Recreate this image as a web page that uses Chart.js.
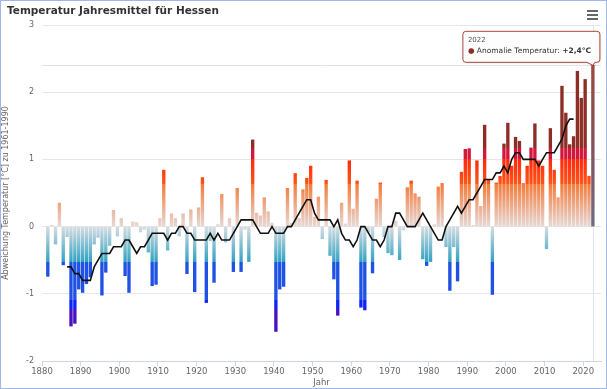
<!DOCTYPE html>
<html>
<head>
<meta charset="utf-8">
<script src="https://cdn.jsdelivr.net/npm/chart.js@4.4.0/dist/chart.umd.min.js"></script>
<style>
  html, body { margin: 0; padding: 0; background: #fff; }
  #wrap { position: relative; width: 607px; height: 389px; box-sizing: border-box; border: 1px solid #9db8e6; }
  #title { position: absolute; left: 6px; top: 3px; font: bold 10.5px "DejaVu Sans", sans-serif; color: #333; white-space: nowrap; }
  #menu { position: absolute; left: 586px; top: 9px; width: 11px; }
  #menu span { display: block; height: 2px; background: #666; margin-bottom: 2px; }
  canvas { position: absolute; left: 0; top: 0; }
</style>
</head>
<body>
<div id="wrap">
  <canvas id="tempChart" width="605" height="387"></canvas>
  <div id="title">Temperatur Jahresmittel für Hessen</div>
  <div id="menu"><span></span><span></span><span></span></div>
</div>
<script>
// Jahresmittel-Abweichung [°C] zu 1961-1990, Jahre ab 1881
const firstYear = 1881;
const anomalies = [
  -0.74, 0.02, -0.26, 0.35, -0.57, -0.15, -1.48, -1.44, -0.93, -0.98,   // 1881-1890
  -0.85, -0.75, -0.26, -0.16, -1.02, -0.68, -0.28, 0.24, -0.14, 0.12,   // 1891-1900
  -0.73, -0.98, 0.07, 0.06, -0.08, -0.04, -0.38, -0.88, -0.86, 0.12,    // 1901-1910
  0.84, -0.35, 0.19, 0.12, -0.14, 0.19, -0.70, 0.25, -0.97, 0.28,       // 1911-1920
  0.73, -1.13, -0.21, -0.83, 0.03, 0.48, -0.23, 0.12, -0.67, 0.57,      // 1921-1930
  -0.67, -0.04, -0.52, 1.29, 0.20, 0.16, 0.43, 0.22, 0.05, -1.56,       // 1931-1940
  -0.93, -0.89, 0.57, 0.05, 0.79, 0.12, 0.55, 0.72, 0.90, 0.14,         // 1941-1950
  0.44, -0.18, 0.69, -0.43, -0.78, -1.32, 0.35, 0.04, 0.98, 0.26,       // 1951-1960
  0.68, -1.20, -1.24, -0.08, -0.69, 0.41, 0.65, -0.15, -0.39, -0.42,    // 1961-1970
  0.08, -0.49, -0.05, 0.58, 0.68, 0.49, 0.44, -0.48, -0.58, -0.52,      // 1971-1980
  0.03, 0.59, 0.64, -0.30, -0.95, -0.30, -0.81, 0.81, 1.15, 1.16,       // 1981-1990
  0.02, 0.98, 0.30, 1.51, 0.69, -1.01, 0.65, 0.75, 1.23, 1.54,          // 1991-2000
  0.90, 1.33, 1.27, 0.64, 0.90, 1.17, 1.53, 0.98, 0.90, -0.33,          // 2001-2010
  1.46, 0.84, 0.43, 2.09, 1.69, 1.22, 1.34, 2.31, 1.91, 2.19,           // 2011-2020
  0.75, 2.40                                                            // 2021-2022
];
const years = anomalies.map((_, i) => firstYear + i);

// gleitendes Mittel, Jahre ab 1886
const meanFirstYear = 1886;
const runningMean = [
  -0.6, -0.6, -0.7, -0.7, -0.8,                               // 1886-1890
  -0.8, -0.8, -0.6, -0.5, -0.4, -0.4, -0.4, -0.3, -0.3, -0.3, // 1891-1900
  -0.2, -0.2, -0.3, -0.4, -0.3, -0.3, -0.2, -0.1, -0.1, -0.1, // 1901-1910
  -0.1, -0.2, -0.1, -0.1, 0, 0, -0.1, -0.1, -0.2, -0.2,       // 1911-1920
  -0.2, -0.2, -0.1, -0.2, -0.1, -0.2, -0.2, -0.2, -0.1, 0,    // 1921-1930
  0.1, 0.1, 0.1, 0.1, 0, -0.1, -0.1, -0.1, 0, -0.1,           // 1931-1940
  -0.1, -0.1, 0, 0, 0.1, 0.2, 0.3, 0.4, 0.4, 0.2,             // 1941-1950
  0.1, 0.1, 0.1, 0.1, 0, 0.1, -0.1, -0.2, -0.2, -0.3,         // 1951-1960
  -0.2, 0, 0, -0.1, -0.2, -0.2, -0.3, -0.2, 0, 0,             // 1961-1970
  0.2, 0.2, 0.1, 0, 0, 0, 0.1, 0.2, 0.1, 0,                   // 1971-1980
  -0.1, -0.2, -0.2, 0, 0.1, 0.2, 0.3, 0.2, 0.3, 0.4,          // 1981-1990
  0.4, 0.5, 0.6, 0.7, 0.7, 0.7, 0.8, 0.8, 0.9, 0.8,           // 1991-2000
  1.0, 1.1, 1.1, 1.0, 1.0, 1.0, 1.0, 0.9, 1.0, 1.1,           // 2001-2010
  1.1, 1.1, 1.2, 1.3, 1.5, 1.6, 1.6                           // 2011-2017
];
const meanYears = runningMean.map((_, i) => meanFirstYear + i);

const yTicks = [-2, -1, 0, 1, 2, 3];
const xTickYears = [1880, 1890, 1900, 1910, 1920, 1930, 1940, 1950, 1960, 1970, 1980, 1990, 2000, 2010, 2020];

// colour bands (value, colour) - hard edges where two stops share a value
const bandStops = [
  [3, '#8c2e26'], [1.17, '#8c2e26'], [1.17, '#d3173c'], [1.0, '#d3173c'],
  [1.0, '#ff2a0c'], [0.64, '#ff5418'], [0.64, '#f47a38'], [0, '#e6d9d6'],
  [0, '#d7dde2'], [-0.53, '#2ea2c2'], [-0.53, '#1f52e4'], [-1.09, '#1f52e4'],
  [-1.09, '#0d24ff'], [-1.22, '#0d24ff'], [-1.22, '#4812c2'], [-2, '#4812c2']
];

let gradCache = null;
function barFill(ctx) {
  const chart = ctx.chart;
  const { chartArea, scales } = chart;
  if (!chartArea) return '#ccc';
  const y = scales.y;
  const top = y.getPixelForValue(y.max), bot = y.getPixelForValue(y.min);
  if (ctx.dataIndex === anomalies.length - 1) {
    // hovered bar (2022)
    const g = chart.ctx.createLinearGradient(0, y.getPixelForValue(anomalies[ctx.dataIndex]), 0, y.getPixelForValue(0));
    g.addColorStop(0, '#9a4842');
    g.addColorStop(0.5, '#85525a');
    g.addColorStop(1, '#6e6c84');
    return g;
  }
  if (!gradCache) {
    gradCache = chart.ctx.createLinearGradient(0, top, 0, bot);
    bandStops.forEach(([v, c]) => {
      gradCache.addColorStop((y.getPixelForValue(v) - top) / (bot - top), c);
    });
  }
  return gradCache;
}

const hoverTip = {
  id: 'hoverTip',
  beforeDatasetsDraw(chart) {
    const i = anomalies.length - 1;
    const a = chart.chartArea, c = chart.ctx;
    const px = chart.scales.x.getPixelForValue(years[i] + 0.5);
    const py = chart.scales.y.getPixelForValue(anomalies[i]);
    c.save();
    c.lineWidth = 1;
    c.strokeStyle = '#e3e3e3';
    c.beginPath(); c.moveTo(a.left, Math.round(py) + 0.5); c.lineTo(a.right, Math.round(py) + 0.5); c.stroke();
    c.strokeStyle = '#dfe5f0';
    c.beginPath(); c.moveTo(Math.round(px) + 0.5, a.top); c.lineTo(Math.round(px) + 0.5, a.bottom); c.stroke();
    c.restore();
  },
  afterDraw(chart) {
    const i = anomalies.length - 1;
    const c = chart.ctx;
    const px = chart.scales.x.getPixelForValue(years[i] + 0.5);
    const py = chart.scales.y.getPixelForValue(anomalies[i]);
    const right = px + 7, bottom = py - 3, w = 137, h = 31;
    const left = right - w, top = bottom - h, r = 3;
    c.save();
    c.shadowColor = 'rgba(0,0,0,0.12)';
    c.shadowOffsetX = 1; c.shadowOffsetY = 1; c.shadowBlur = 2;
    c.beginPath();
    c.moveTo(left + r, top);
    c.lineTo(right - r, top);
    c.arcTo(right, top, right, top + r, r);
    c.lineTo(right, bottom - r);
    c.arcTo(right, bottom, right - r, bottom, r);
    c.lineTo(px + 2, bottom);
    c.lineTo(px, py);
    c.lineTo(px - 6, bottom);
    c.lineTo(left + r, bottom);
    c.arcTo(left, bottom, left, bottom - r, r);
    c.lineTo(left, top + r);
    c.arcTo(left, top, left + r, top, r);
    c.closePath();
    c.fillStyle = 'rgba(255,255,255,0.92)';
    c.fill();
    c.shadowColor = 'transparent';
    c.lineWidth = 1;
    c.strokeStyle = '#a8443c';
    c.stroke();

    c.textBaseline = 'alphabetic';
    c.fillStyle = '#555';
    c.font = '7px "DejaVu Sans", sans-serif';
    c.fillText(String(years[i]), left + 5, top + 11);

    const v = anomalies[i];
    const valText = (v >= 0 ? '+' : '') + v.toFixed(1).replace('.', ',') + '°C';
    let tx = left + 5;
    const ty = top + 22;
    c.font = '7.5px "DejaVu Sans", sans-serif';
    c.fillStyle = '#8c2e26';
    c.fillText('\u25CF', tx, ty);
    tx += c.measureText('\u25CF ').width;
    c.fillStyle = '#333';
    const label = 'Anomalie Temperatur: ';
    c.fillText(label, tx, ty);
    tx += c.measureText(label).width;
    c.font = 'bold 7.5px "DejaVu Sans", sans-serif';
    c.fillText(valText, tx, ty);
    c.restore();
  }
};

const chart = new Chart(document.getElementById('tempChart'), {
  type: 'bar',
  data: {
    datasets: [{
      type: 'line',
      label: 'Mittel',
      data: meanYears.map((yr, i) => ({ x: yr + 0.5, y: runningMean[i] })),
      borderColor: '#111',
      borderWidth: 1.6,
      pointRadius: 0,
      tension: 0,
      order: 0
    }, {
      label: 'Anomalie Temperatur',
      data: years.map((yr, i) => ({ x: yr + 0.5, y: anomalies[i] })),
      backgroundColor: barFill,
      borderWidth: 0,
      barThickness: 2.7,
      order: 1
    }]
  },
  options: {
    responsive: false,
    animation: false,
    events: [],
    layout: { padding: { top: 24, right: 5, left: 0, bottom: 0 } },
    plugins: {
      legend: { display: false },
      tooltip: { enabled: false },
      title: { display: false }
    },
    scales: {
      x: {
        type: 'linear',
        min: 1880,
        max: 2024.6,
        offset: false,
        afterFit(scale) { scale.height = 27; },
        afterBuildTicks(scale) { scale.ticks = xTickYears.map(v => ({ value: v })); },
        grid: { offset: false, drawOnChartArea: false, drawTicks: true, tickLength: 5, color: '#ccd6eb' },
        border: { color: '#ccd6eb' },
        ticks: {
          font: { family: '"DejaVu Sans", sans-serif', size: 8.5 },
          color: '#666', padding: 1, maxRotation: 0,
          callback: v => String(v)
        },
        title: {
          display: true, text: 'Jahr', color: '#666',
          font: { family: '"DejaVu Sans", sans-serif', size: 8.5 },
          padding: { top: 1, bottom: 0 }
        }
      },
      y: {
        min: yTicks[0],
        max: yTicks[yTicks.length - 1],
        afterFit(scale) { scale.width = 41; },
        afterBuildTicks(scale) { scale.ticks = yTicks.map(v => ({ value: v })); },
        grid: { color: '#e6e6e6', drawTicks: false },
        border: { display: false },
        ticks: {
          font: { family: '"DejaVu Sans", sans-serif', size: 8 },
          color: '#666', padding: 8,
          callback: v => String(v)
        },
        title: {
          display: true, text: 'Abweichung Temperatur [°C] zu 1961-1990', color: '#666',
          font: { family: '"DejaVu Sans", sans-serif', size: 8 },
          padding: { top: 0, bottom: 0 }
        }
      }
    }
  },
  plugins: [hoverTip]
});
</script>
</body>
</html>
